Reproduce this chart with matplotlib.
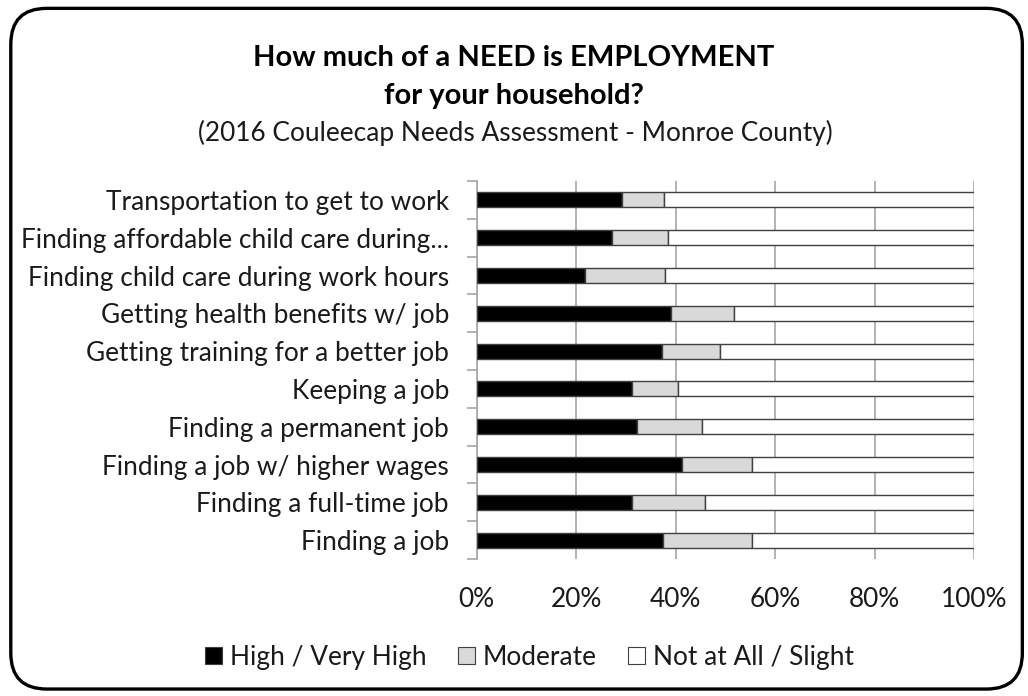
import matplotlib
matplotlib.use("Agg")
import matplotlib.pyplot as plt
from matplotlib.patches import FancyBboxPatch, Patch
from matplotlib.ticker import PercentFormatter

plt.rcParams['font.family'] = ['Lato', 'DejaVu Sans']

categories = [
    "Transportation to get to work",
    "Finding affordable child care during...",
    "Finding child care during work hours",
    "Getting health benefits w/ job",
    "Getting training for a better job",
    "Keeping a job",
    "Finding a permanent job",
    "Finding a job w/ higher wages",
    "Finding a full-time job",
    "Finding a job",
]
high = [29.3, 27.3, 21.8, 39.1, 37.3, 31.2, 32.2, 41.3, 31.2, 37.5]
moderate = [8.4, 11.2, 16.1, 12.7, 11.7, 9.2, 13.2, 14.0, 14.8, 17.9]
not_at_all = [100 - h - m for h, m in zip(high, moderate)]
series_names = ["High / Very High", "Moderate", "Not at All / Slight"]
series_colors = ["#000000", "#d9d9d9", "#ffffff"]
x_ticks = [0, 20, 40, 60, 80, 100]

BODY = 18.9
TITLE = 21

fig = plt.figure(figsize=(10.28, 6.96), dpi=100)

# rounded outer frame
frame = FancyBboxPatch((0.0105, 0.01), 0.984, 0.978,
                       boxstyle="round,pad=0,rounding_size=0.035",
                       transform=fig.transFigure, facecolor="none",
                       edgecolor="black", linewidth=2.4, zorder=5,
                       mutation_aspect=1028 / 696)
fig.patches.append(frame)

ax = fig.add_axes([0.4637, 0.1968, 0.4838, 0.5431])
ax.set_facecolor("none")

y = list(range(len(categories)))
left = [0.0] * len(categories)
for vals, name, col in zip([high, moderate, not_at_all], series_names, series_colors):
    ax.barh(y, vals, left=left, height=0.4, color=col, edgecolor="#404040",
            linewidth=1.0, label=name, zorder=3)
    left = [l + v for l, v in zip(left, vals)]

ax.set_xlim(0, 100)
ax.set_ylim(len(categories) - 0.5, -0.5)
ax.set_xticks(x_ticks)
ax.xaxis.set_major_formatter(PercentFormatter(decimals=0))
ax.set_yticks(y)
ax.set_yticklabels(categories)
ax.set_yticks([i - 0.5 for i in range(len(categories) + 1)], minor=True)

ax.grid(axis="x", color="#a6a6a6", linewidth=1.2, zorder=0)
for s in ["top", "right", "bottom"]:
    ax.spines[s].set_visible(False)
ax.spines["left"].set_color("#a6a6a6")
ax.spines["left"].set_linewidth(1.2)

ax.tick_params(axis="x", length=0, pad=20, labelsize=BODY, colors="#1a1a1a")
ax.tick_params(axis="y", which="major", length=0, pad=20, labelsize=BODY,
               colors="#1a1a1a")
ax.tick_params(axis="y", which="minor", length=7, width=1.2, color="#a6a6a6")

fig.text(0.5, 0.917, "How much of a NEED is EMPLOYMENT", ha="center", va="center",
         fontsize=TITLE, fontweight="bold")
fig.text(0.5, 0.862, "for your household?", ha="center", va="center",
         fontsize=TITLE, fontweight="bold")
fig.text(0.501, 0.809, "(2016 Couleecap Needs Assessment - Monroe County)",
         ha="center", va="center", fontsize=BODY, color="#1a1a1a")

handles = [Patch(facecolor=c, edgecolor="#404040", linewidth=0.8) for c in series_colors]
fig.legend(handles, series_names, loc="center", bbox_to_anchor=(0.515, 0.056),
           ncol=3, frameon=False, fontsize=BODY, handlelength=0.65,
           handleheight=0.65, handletextpad=0.3, columnspacing=1.2,
           labelcolor="#1a1a1a")

fig.savefig("out.png", dpi=100)
